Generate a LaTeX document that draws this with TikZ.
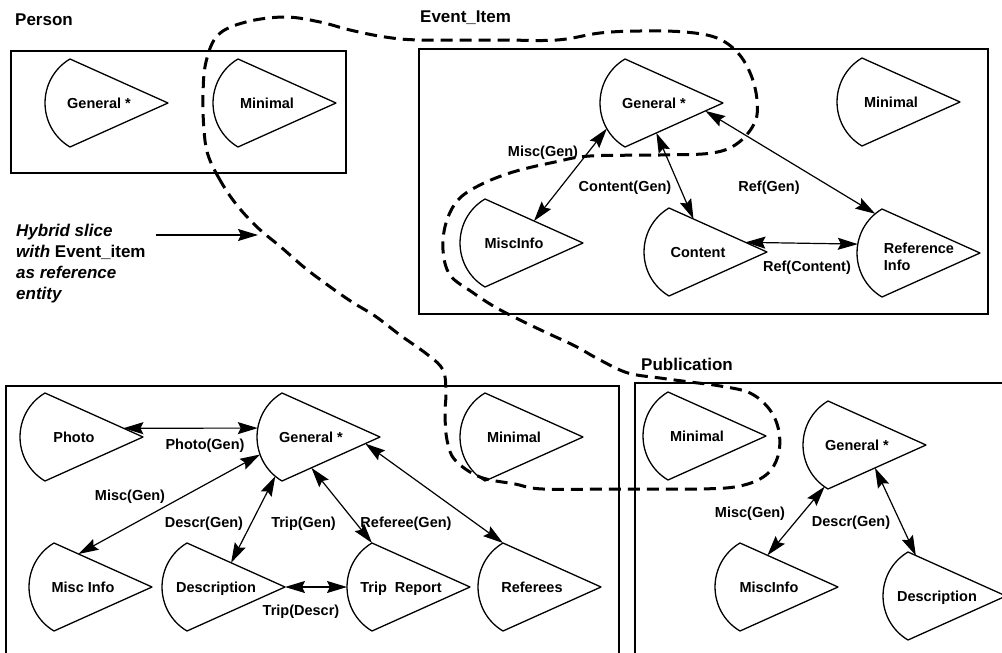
\documentclass[tikz,border=0pt]{standalone}
\usepackage{fontspec}
\setmainfont{Liberation Sans}
\usetikzlibrary{arrows.meta,calc}

\tikzset{
  frame/.style={draw, line width=1.4pt},
  cone line/.style={draw, line width=1.3pt, line join=round},
  cone text/.style={font=\fontsize{14.5}{17}\selectfont\bfseries, anchor=base, inner sep=0pt, align=left},
  lbl/.style={font=\fontsize{14.5}{17}\selectfont\bfseries, anchor=base, inner sep=0pt},
  title/.style={font=\fontsize{17}{20}\selectfont\bfseries, anchor=base west, inner sep=0pt},
  head/.tip={Stealth[length=20pt,width=12pt,inset=3pt]},
  link/.style={line width=1.2pt, head-head},
  pointer/.style={line width=1.2pt, -head},
  slice/.style={line width=3pt, dash pattern=on 12pt off 7pt},
  % view shape: arc on the left, straight sides meeting in a point on the right
  cone/.pic={
    \path[cone line] (25,-44) .. controls (-8.3,-24.1) and (-8.3,24.1) .. (25,44) -- (123,0) -- cycle;
    \coordinate (-l) at (0,0);
    \coordinate (-t) at (25,-44);
    \coordinate (-b) at (25,44);
    \coordinate (-a) at (123,0);
    \foreach \p in {-50,-40,...,50} {
      \coordinate (-w\p) at ({51.2*(1-cos(\p))},{-51.2*sin(\p)});
    }
    \node[cone text] (-txt) at (54,5) {#1};
  }
}

\begin{document}
\begin{tikzpicture}[x=1pt, y=-1pt]
\useasboundingbox (0,0) rectangle (1002,653);

% entity frames
\draw[frame] (11,51) rectangle (346,173);
\draw[frame] (419,49) rectangle (988,314);
\draw[frame] (6,386) rectangle (619,700);
\draw[frame] (635,383) rectangle (1020,700);

% entity titles
\node[title] (t-person) at (15,25) {Person};
\node[title] (t-event) at (420,23) {Event\_Item};
\node[title] (t-pub) at (641,370) {Publication};

% Person
\pic (psg) at (45,103) {cone=General *};
\pic (psm) at (213,103) {cone=Minimal};

% Event_Item
\pic (eg) at (600,103) {cone=General *};
\pic (em) at (837,102) {cone=Minimal};
\pic (emi) at (460,243) {cone=MiscInfo};
\pic (ec) at (644,252) {cone=Content};
\pic (er) at (857,253) {cone={}};
\node[cone text, anchor=center] (er-label) at ($(er-l)+(62,4)$) {Reference\\Info};

% connector ends on the shape outlines
\coordinate (emi-e1) at ($(emi-t)!0.5!(emi-a)$);
\coordinate (eg-e1) at ($(eg-b)!0.32!(eg-a)$);
\coordinate (ec-e1) at ($(ec-t)!0.25!(ec-a)$);
\coordinate (eg-e2) at ($(eg-b)!0.82!(eg-a)$);
\coordinate (ec-e2) at ($(ec-t)!0.78!(ec-a)$);

\draw[link] (emi-e1) -- (eg-w-30);
\draw[link] (eg-e1) -- (ec-e1);
\draw[link] (eg-e2) -- (er-w50);
\draw[link] (ec-e2) -- (er-w10);

\node[lbl] (l-e1) at (543,156) {Misc(Gen)};
\node[lbl] (l-e2) at (625,191) {Content(Gen)};
\node[lbl] (l-e3) at (769,191) {Ref(Gen)};
\node[lbl] (l-e4) at (807,271) {Ref(Content)};

% Trip report entity
\pic (bp) at (20,437) {cone=Photo};
\pic (bg) at (257,437) {cone=General *};
\pic (bm) at (460,437) {cone=Minimal};
\pic (bmi) at (29,587) {cone=Misc Info};
\pic (bd) at (162,587) {cone=Description};
\pic (bt) at (347,587) {cone=Trip\ \ Report};
\pic (br) at (478,587) {cone=Referees};

\coordinate (bp-e1) at ($(bp-t)!0.8!(bp-a)$);
\coordinate (bmi-e1) at ($(bmi-t)!0.25!(bmi-a)$);
\coordinate (bd-e1) at ($(bd-t)!0.45!(bd-a)$);
\coordinate (bg-e1) at ($(bg-b)!0.3!(bg-a)$);
\coordinate (bg-e2) at ($(bg-b)!0.85!(bg-a)$);

\draw[link] (bp-e1) -- (bg-w10);
\draw[link] (bmi-e1) -- (bg-w-20);
\draw[link] (bg-w-50) -- (bd-e1);
\draw[link] (bg-e1) -- (bt-t);
\draw[link] (bg-e2) -- (br-t);
\draw[link] (bd-a) -- (bt-l);

\node[lbl] (l-b1) at (205,449) {Photo(Gen)};
\node[lbl] (l-b2) at (130,500) {Misc(Gen)};
\node[lbl] (l-b3) at (204,527) {Descr(Gen)};
\node[lbl] (l-b4) at (303.5,527) {Trip(Gen)};
\node[lbl] (l-b5) at (406,527) {Referee(Gen)};
\node[lbl] (l-b6) at (301,615) {Trip(Descr)};

% Publication
\pic (um) at (643,436) {cone=Minimal};
\pic (ug) at (803,445) {cone=General *};
\pic (umi) at (715,587) {cone=MiscInfo};
\pic (ud) at (883,596) {cone=Description};

\coordinate (ug-e1) at ($(ug-w-50)!0.5!(ug-b)$);
\coordinate (umi-e1) at ($(umi-t)!0.28!(umi-a)$);
\coordinate (ug-e2) at ($(ug-b)!0.48!(ug-a)$);
\coordinate (ud-e1) at ($(ud-t)!0.08!(ud-a)$);

\draw[link] (ug-e1) -- (umi-e1);
\draw[link] (ug-e2) -- (ud-e1);

\node[lbl] (l-p1) at (750,517) {Misc(Gen)};
\node[lbl] (l-p2) at (851,526) {Descr(Gen)};

% hybrid slice outline
\draw[slice] plot[smooth cycle, tension=0.6] coordinates {
  (236,204) (220,180) (208,155) (204,130) (203,95) (206,62) (218,35)
  (246,22) (285,17) (320,22) (350,30) (385,37) (420,40) (500,40)
  (557,40) (600,33) (640,31) (685,32) (717,38) (738,53) (751,75)
  (757,100) (755,122) (738,143) (712,153) (660,155) (590,156)
  (555,162) (513,172) (480,185) (458,200) (446,223) (443,250)
  (450,275) (472,292) (495,307) (520,320) (545,332) (575,346)
  (600,360) (628,373) (660,378) (690,382) (720,386) (750,393)
  (770,410) (779,432) (778,456) (766,475) (740,486) (700,489)
  (620,489) (543,489) (515,484) (480,477) (455,460) (447,440)
  (445,413) (446,392) (443,370) (428,355) (400,335) (375,316)
  (352,302) (329,286) (305,268) (282,248) (257,227)};

% annotation
\node[font=\fontsize{17}{21}\selectfont\bfseries, align=left, anchor=north west, inner sep=0pt]
  (hybrid) at (16,224)
  {\itshape Hybrid slice\\{\itshape with} Event\_item\\\itshape as reference\\\itshape entity};
\coordinate (hs-tip) at (258,235);
\draw[pointer] ([xshift=10pt]hybrid.east |- hs-tip) -- (hs-tip);

\end{tikzpicture}
\end{document}
